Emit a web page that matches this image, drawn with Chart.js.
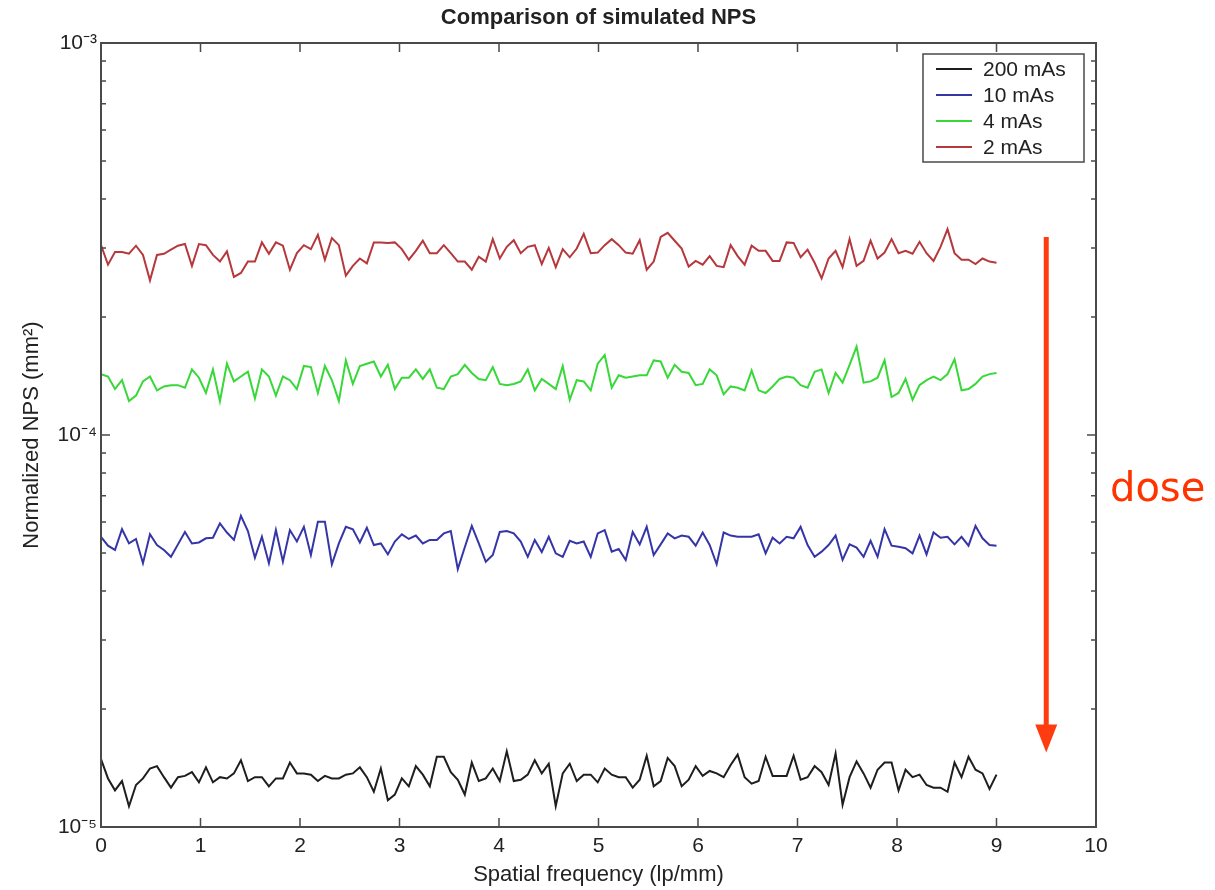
<!DOCTYPE html>
<html>
<head>
<meta charset="utf-8">
<title>Comparison of simulated NPS</title>
<script src="https://cdn.jsdelivr.net/npm/chart.js"></script>
<style>
  body { margin: 0; background: #fff; }
  #wrap { width: 1215px; height: 890px; }
</style>
</head>
<body>
<div id="wrap"><canvas id="npsChart" width="1215" height="890"></canvas></div>
<script>
// NPS values, in units of 1e-5 mm^2
const UNIT = 1e-5;
const FREQ_STEP = 9 / 128; // lp/mm between samples

const nps200 = [
  1.49, 1.33, 1.24, 1.31, 1.13, 1.28, 1.33, 1.41, 1.43, 1.34,
  1.26, 1.34, 1.35, 1.38, 1.30, 1.42, 1.30, 1.34, 1.33, 1.37,
  1.48, 1.31, 1.34, 1.34, 1.27, 1.33, 1.33, 1.46, 1.37, 1.37,
  1.36, 1.31, 1.35, 1.33, 1.33, 1.36, 1.37, 1.42, 1.34, 1.23,
  1.41, 1.17, 1.21, 1.33, 1.27, 1.43, 1.36, 1.27, 1.51, 1.51,
  1.38, 1.32, 1.21, 1.46, 1.31, 1.33, 1.41, 1.31, 1.56, 1.31,
  1.32, 1.36, 1.48, 1.37, 1.45, 1.13, 1.37, 1.45, 1.31, 1.36,
  1.36, 1.30, 1.41, 1.36, 1.34, 1.34, 1.26, 1.32, 1.52, 1.27,
  1.31, 1.50, 1.43, 1.27, 1.32, 1.43, 1.35, 1.39, 1.37, 1.34,
  1.44, 1.53, 1.34, 1.29, 1.31, 1.51, 1.35, 1.35, 1.35, 1.52,
  1.32, 1.34, 1.43, 1.38, 1.28, 1.54, 1.14, 1.34, 1.47, 1.37,
  1.26, 1.40, 1.46, 1.46, 1.24, 1.40, 1.34, 1.36, 1.28, 1.26,
  1.26, 1.23, 1.46, 1.34, 1.51, 1.40, 1.37, 1.25, 1.36
];

const nps10 = [
  5.50, 5.22, 5.09, 5.75, 5.29, 5.43, 4.71, 5.58, 5.24, 5.09,
  4.89, 5.26, 5.66, 5.29, 5.32, 5.45, 5.47, 5.95, 5.64, 5.40,
  6.22, 5.69, 4.86, 5.50, 4.71, 5.72, 4.75, 5.72, 5.35, 5.83,
  4.94, 6.01, 6.01, 4.68, 5.29, 5.83, 5.75, 5.32, 5.80, 5.24,
  5.29, 4.96, 5.35, 5.58, 5.43, 5.54, 5.29, 5.40, 5.40, 5.61,
  5.69, 4.55, 5.17, 5.86, 5.29, 4.75, 4.94, 5.66, 5.69, 5.61,
  5.35, 4.89, 5.40, 5.03, 5.50, 4.99, 4.89, 5.37, 5.29, 5.35,
  4.89, 5.61, 5.72, 5.04, 5.12, 4.80, 5.66, 5.26, 5.83, 4.94,
  5.26, 5.61, 5.45, 5.54, 5.50, 5.22, 5.64, 5.24, 4.68, 5.64,
  5.54, 5.50, 5.50, 5.50, 5.58, 4.99, 5.47, 5.29, 5.50, 5.45,
  5.83, 5.24, 4.89, 5.04, 5.24, 5.54, 4.80, 5.26, 5.16, 4.89,
  5.37, 4.89, 5.75, 5.22, 5.19, 5.14, 4.99, 5.54, 4.96, 5.64,
  5.47, 5.50, 5.26, 5.50, 5.22, 5.86, 5.45, 5.24, 5.22
];

const nps4 = [
  14.3, 14.1, 13.1, 13.8, 12.2, 12.6, 13.7, 14.1, 13.0, 13.3,
  13.4, 13.4, 13.2, 14.7, 14.0, 12.8, 14.7, 12.2, 15.2, 13.7,
  14.1, 14.5, 12.4, 14.7, 14.1, 12.6, 14.1, 13.8, 13.1, 15.0,
  14.9, 12.8, 15.0, 13.8, 12.2, 15.5, 13.5, 15.0, 15.2, 15.4,
  14.1, 15.1, 13.1, 14.0, 14.0, 14.7, 13.9, 14.7, 13.2, 13.1,
  14.1, 14.3, 15.1, 14.4, 13.9, 13.8, 14.9, 13.5, 13.4, 13.5,
  13.7, 14.7, 13.0, 13.9, 13.5, 13.1, 15.0, 12.3, 13.8, 13.7,
  13.0, 15.2, 16.0, 13.2, 14.2, 14.0, 14.1, 14.2, 14.2, 15.5,
  15.4, 14.0, 15.1, 14.5, 14.4, 13.4, 13.5, 14.7, 14.2, 12.7,
  13.3, 13.2, 13.0, 14.6, 13.0, 12.8, 13.3, 13.9, 14.1, 14.0,
  13.4, 13.2, 14.5, 14.7, 12.8, 14.4, 13.6, 15.1, 16.8, 13.6,
  13.7, 14.0, 15.5, 12.5, 12.8, 13.9, 12.3, 13.4, 13.8, 14.1,
  13.8, 14.3, 15.6, 13.0, 13.1, 13.5, 14.1, 14.3, 14.4
];

const nps2 = [
  30.5, 27.2, 29.3, 29.3, 29.0, 30.4, 28.8, 24.8, 28.8, 29.0,
  29.7, 30.4, 30.7, 27.0, 30.7, 30.5, 28.8, 27.7, 29.4, 25.3,
  25.9, 27.7, 27.7, 31.0, 29.0, 31.0, 30.4, 26.4, 29.1, 30.5,
  29.8, 32.4, 28.0, 31.8, 30.5, 25.5, 27.0, 28.2, 27.4, 31.0,
  31.0, 30.9, 31.0, 29.8, 28.0, 29.5, 31.3, 29.1, 29.1, 30.5,
  29.1, 27.7, 27.7, 26.4, 28.5, 27.7, 31.6, 28.2, 30.2, 31.4,
  29.1, 30.2, 30.5, 27.3, 30.0, 26.8, 29.8, 28.4, 29.9, 32.6,
  29.1, 29.2, 30.5, 31.6, 30.5, 29.2, 29.0, 31.4, 26.4, 27.7,
  32.0, 32.8, 31.3, 29.9, 26.9, 27.8, 27.2, 28.6, 27.0, 26.8,
  30.5, 28.6, 27.2, 30.4, 29.5, 29.5, 27.8, 27.8, 31.0, 30.9,
  28.4, 29.7, 27.5, 25.1, 28.2, 29.5, 26.8, 31.6, 27.0, 27.8,
  31.3, 28.2, 29.2, 31.6, 29.1, 29.5, 29.0, 31.1, 29.1, 27.8,
  30.2, 33.5, 29.1, 28.0, 28.0, 27.3, 28.2, 27.7, 27.5
];

const seriesLabels = ['200 mAs', '10 mAs', '4 mAs', '2 mAs'];
const seriesColors = ['#1e1e1e', '#3535a8', '#38d838', '#b5383c'];
const seriesValues = [nps200, nps10, nps4, nps2];

// sampling grid of the spectra
const freqs = nps200.map((_, i) => i * FREQ_STEP);

const chartTitle = 'Comparison of simulated NPS';

// red "dose" arrow, in data coordinates
const doseArrow = { x: 9.5, from: 3.2e-4, to: 1.55e-5, text: 'dose' };

const FONT = "'Liberation Sans', Arial, Helvetica, sans-serif";
const SUP = { '-': '\u207B', '0': '\u2070', '1': '\u00B9', '2': '\u00B2', '3': '\u00B3',
  '4': '\u2074', '5': '\u2075', '6': '\u2076', '7': '\u2077', '8': '\u2078', '9': '\u2079' };

function mantissa(v) {
  const e = Math.floor(Math.log10(v) + 1e-9);
  return v / Math.pow(10, e);
}

// Matlab-like frame: box, inward ticks on all sides, title, legend, dose arrow
const matlabFrame = {
  id: 'matlabFrame',
  afterDatasetsDraw(chart) {
    const { ctx, chartArea: a, scales: { x, y } } = chart;
    ctx.save();
    ctx.strokeStyle = '#4a4a4a';
    ctx.lineWidth = 1.5;
    ctx.beginPath();
    x.ticks.forEach(t => {
      if (t.value <= x.min || t.value >= x.max) return;
      const px = x.getPixelForValue(t.value);
      ctx.moveTo(px, a.bottom); ctx.lineTo(px, a.bottom - 9);
      ctx.moveTo(px, a.top); ctx.lineTo(px, a.top + 9);
    });
    y.ticks.forEach(t => {
      const m = mantissa(t.value);
      if (Math.abs(m - Math.round(m)) > 1e-6) return;
      if (t.value <= y.min * 1.0001 || t.value >= y.max * 0.9999) return;
      const len = Math.round(m) === 1 ? 9 : 5;
      const py = y.getPixelForValue(t.value);
      ctx.moveTo(a.left, py); ctx.lineTo(a.left + len, py);
      ctx.moveTo(a.right, py); ctx.lineTo(a.right - len, py);
    });
    ctx.stroke();
    ctx.lineWidth = 2;
    ctx.strokeRect(a.left, a.top, a.right - a.left, a.bottom - a.top);
    ctx.restore();
  },
  afterDraw(chart) {
    const { ctx, chartArea: a, scales: { x, y } } = chart;
    ctx.save();

    // title centred over the axes
    ctx.font = 'bold 22px ' + FONT;
    ctx.fillStyle = '#222';
    ctx.textAlign = 'center';
    ctx.textBaseline = 'middle';
    ctx.fillText(chartTitle, (a.left + a.right) / 2, 18);

    // legend box, top right inside the axes
    const bx = a.right - 173, by = a.top + 11, bw = 161, bh = 108;
    ctx.fillStyle = '#fff';
    ctx.fillRect(bx, by, bw, bh);
    ctx.strokeStyle = '#4a4a4a';
    ctx.lineWidth = 1.5;
    ctx.strokeRect(bx, by, bw, bh);
    ctx.font = '21px ' + FONT;
    ctx.textBaseline = 'middle';
    ctx.textAlign = 'left';
    chart.data.datasets.forEach((ds, i) => {
      const ry = by + 15 + i * 26;
      ctx.strokeStyle = ds.borderColor;
      ctx.lineWidth = 2;
      ctx.beginPath();
      ctx.moveTo(bx + 13, ry); ctx.lineTo(bx + 49, ry);
      ctx.stroke();
      ctx.fillStyle = '#222';
      ctx.fillText(ds.label, bx + 60, ry + 1);
    });

    // dose arrow
    const ax = x.getPixelForValue(doseArrow.x);
    const y0 = y.getPixelForValue(doseArrow.from);
    const y1 = y.getPixelForValue(doseArrow.to);
    ctx.strokeStyle = '#ff3b10';
    ctx.fillStyle = '#ff3b10';
    ctx.lineWidth = 5;
    ctx.beginPath();
    ctx.moveTo(ax, y0); ctx.lineTo(ax, y1 - 26);
    ctx.stroke();
    ctx.beginPath();
    ctx.moveTo(ax - 11, y1 - 28);
    ctx.lineTo(ax + 11, y1 - 28);
    ctx.lineTo(ax, y1);
    ctx.closePath();
    ctx.fill();

    ctx.font = "40px 'Comic Sans MS', 'DejaVu Sans', sans-serif";
    ctx.fillStyle = '#ff3300';
    ctx.textAlign = 'left';
    ctx.textBaseline = 'middle';
    ctx.fillText(doseArrow.text, a.right + 14, (y0 + y1) / 2 - 4);
    ctx.restore();
  }
};

const ctx = document.getElementById('npsChart');
new Chart(ctx, {
  type: 'line',
  data: {
    labels: freqs,
    datasets: seriesValues.map((vals, i) => ({
      label: seriesLabels[i],
      data: vals.map(v => v * UNIT),
      borderColor: seriesColors[i],
      borderWidth: 2,
      pointRadius: 0,
      tension: 0,
      fill: false
    }))
  },
  options: {
    responsive: false,
    animation: false,
    layout: { padding: { left: 0, right: 119, top: 43, bottom: 0 } },
    plugins: {
      legend: { display: false },
      tooltip: { enabled: false },
      title: { display: false }
    },
    scales: {
      x: {
        type: 'linear',
        min: 0,
        max: 10,
        grid: { display: false, drawTicks: false },
        border: { display: false },
        ticks: { stepSize: 1, color: '#222', padding: 7, font: { family: FONT, size: 21 } },
        title: {
          display: true,
          text: 'Spatial frequency (lp/mm)',
          color: '#222',
          font: { family: FONT, size: 22 },
          padding: { top: 0, bottom: 2 }
        },
        afterFit(scale) { scale.height = 63; }
      },
      y: {
        type: 'logarithmic',
        min: 1e-5,
        max: 1e-3,
        grid: { display: false, drawTicks: false },
        border: { display: false },
        ticks: {
          autoSkip: false,
          color: '#222',
          padding: 4,
          font: { family: FONT, size: 21 },
          callback: (value) => {
            const e = Math.log10(value);
            if (Math.abs(e - Math.round(e)) > 1e-6) return '';
            return '10' + String(Math.round(e)).split('').map(c => SUP[c]).join('');
          }
        },
        title: {
          display: true,
          text: 'Normalized NPS (mm\u00B2)',
          color: '#222',
          font: { family: FONT, size: 22 },
          padding: { top: 19, bottom: 0 }
        },
        afterFit(scale) { scale.width = 101; }
      }
    }
  },
  plugins: [matlabFrame]
});
</script>
</body>
</html>
